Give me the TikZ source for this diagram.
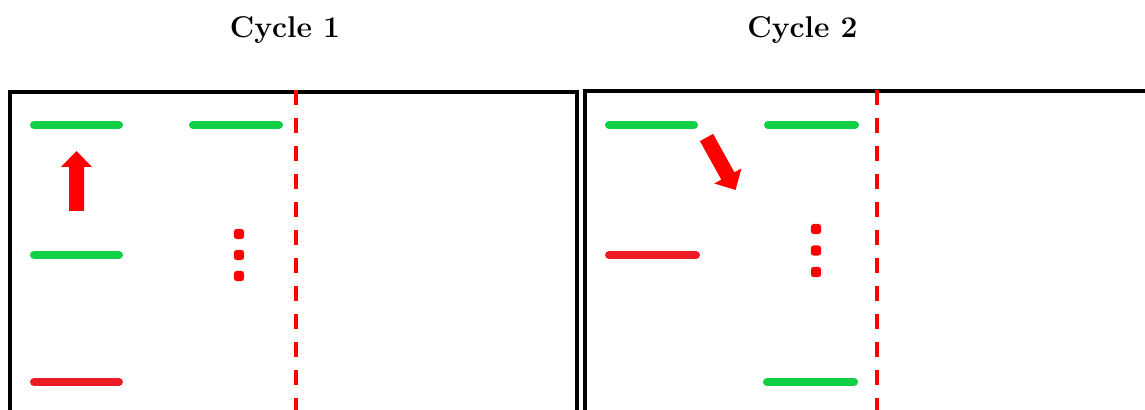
\documentclass[tikz,border=0pt]{standalone}
\usepackage{xcolor}
\usepackage{tikz}
\usetikzlibrary{positioning}

\definecolor{barGreen}{RGB}{18,208,70}
\definecolor{barRed}{RGB}{237,28,36}

\begin{document}
\begin{tikzpicture}[x=0.5pt, y=-0.5pt]
    \tikzstyle{bar}=[line width=4pt, line cap=round]
    \tikzstyle{frame}=[black, line width=2pt]
    \tikzstyle{limit}=[red, line width=2pt, dash pattern=on 7.5pt off 6.5pt]
    \tikzstyle{dot}=[red, fill=red, rectangle, rounded corners=1.6pt,
      minimum size=5.2pt, inner sep=0pt]
    \tikzstyle{title}=[font=\bfseries\fontsize{15}{18}\selectfont,
      anchor=base, inner sep=0pt]
    \tikzset{blockarrow/.pic={
      \fill[red] (0,-7.5) -- (44,-7.5) -- (44,-15.5) -- (60,0)
        -- (44,15.5) -- (44,7.5) -- (0,7.5) -- cycle;}}

    \useasboundingbox (0,0) rectangle (1145,410);
    \clip (0,0) rectangle (1145,410);

    % titles
    \node[title] (t1) at (285,38) {Cycle 1};
    \node[title] (t2) at (802.5,38) {Cycle 2};

    % frames, open at the bottom and the right
    \draw[frame] (10,92) rectangle (577,440);
    \draw[frame] (585,91) rectangle (1170,440);

    % cycle 1
    \draw[limit] (296,90) -- (296,420);
    \draw[bar, barGreen] (34,125) -- (119,125);
    \draw[bar, barGreen] (193,125) -- (279,125);
    \draw[bar, barGreen] (34,255) -- (119,255);
    \draw[bar, barRed] (34,382) -- (119,382);
    \pic[rotate=90] (up) at (76.5,211) {blockarrow};
    \node[dot] (a1) at (239,234) {};
    \node[dot] (a2) at (239,255) {};
    \node[dot] (a3) at (239,276) {};

    % cycle 2
    \draw[limit] (877,90) -- (877,420);
    \draw[bar, barGreen] (609,125) -- (694,125);
    \draw[bar, barGreen] (768,125) -- (855,125);
    \draw[bar, barRed] (609,255) -- (696,255);
    \draw[bar, barGreen] (767,382) -- (854,382);
    \pic[rotate=-61] (down) at (706.5,137.5) {blockarrow};
    \node[dot] (b1) at (816,229) {};
    \node[dot] (b2) at (816,250.5) {};
    \node[dot] (b3) at (816,272) {};
\end{tikzpicture}
\end{document}
